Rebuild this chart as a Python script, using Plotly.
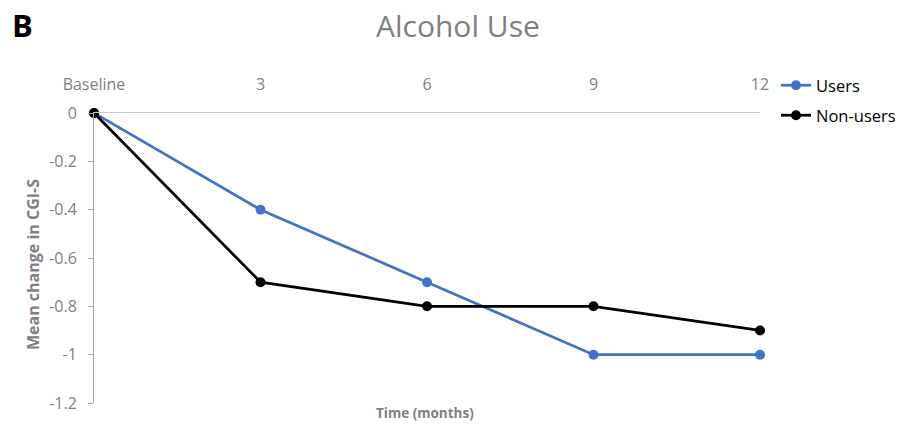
import plotly.graph_objects as go

categories = ["Baseline", "3", "6", "9", "12"]
users = [0, -0.4, -0.7, -1.0, -1.0]
non_users = [0, -0.7, -0.8, -0.8, -0.9]
y_ticks = [0, -0.2, -0.4, -0.6, -0.8, -1.0, -1.2]
y_tick_text = ["0", "-0.2", "-0.4", "-0.6", "-0.8", "-1", "-1.2"]

gray = "#808080"
font_family = "Open Sans, Noto Sans, sans-serif"
xpos = list(range(len(categories)))

ML, MR, MT, MB = 94, 138, 113, 22
W, H = 898, 425
plot_h = H - MT - MB
plot_w = W - ML - MR


def px_to_paper(px, py):
    return (px - ML) / plot_w, (H - MB - py) / plot_h


fig = go.Figure()
fig.add_trace(go.Scatter(
    x=xpos, y=users, name="Users", mode="lines+markers",
    line=dict(color="#4472C4", width=2.75), marker=dict(size=10, color="#4472C4"),
    cliponaxis=False, legend="legend"))
fig.add_trace(go.Scatter(
    x=xpos, y=non_users, name="Non-users", mode="lines+markers",
    line=dict(color="black", width=2.75), marker=dict(size=10, color="black"),
    cliponaxis=False, legend="legend2"))

lx1, ly1 = px_to_paper(776, 68)
lx2, ly2 = px_to_paper(776, 98)
tx, ty = px_to_paper(458, 25)
bx, by = px_to_paper(22, 25)
xtx, xty = px_to_paper(425, 413)
ytx, yty = px_to_paper(33, 265)

fig.update_layout(
    width=W, height=H,
    margin=dict(l=ML, r=MR, t=MT, b=MB, autoexpand=False),
    plot_bgcolor="white", paper_bgcolor="white",
    font=dict(family=font_family, color=gray, size=14),
    showlegend=True,
    legend=dict(x=lx1, y=ly1, xanchor="left", yanchor="top",
                font=dict(size=16.5, color="black"), bgcolor="rgba(0,0,0,0)"),
    legend2=dict(x=lx2, y=ly2, xanchor="left", yanchor="top",
                 font=dict(size=16.5, color="black"), bgcolor="rgba(0,0,0,0)"),
    xaxis=dict(
        range=[0, 4], side="top", tickmode="array", tickvals=xpos, ticktext=categories,
        showline=True, linecolor="#c8c8c8", linewidth=1, showgrid=False, zeroline=False,
        ticks="", ticklabelstandoff=16, tickfont=dict(size=16, color=gray), automargin=False),
    yaxis=dict(
        range=[-1.2, 0], tickmode="array", tickvals=y_ticks, ticktext=y_tick_text,
        showline=True, linecolor="#a6a6a6", linewidth=1, showgrid=False, zeroline=False,
        ticks="outside", ticklen=5, tickcolor="#a6a6a6", ticklabelstandoff=8,
        tickfont=dict(size=16, color=gray), automargin=False),
    annotations=[
        dict(text="Alcohol Use", x=tx, y=ty, xref="paper", yref="paper", showarrow=False,
             xanchor="center", yanchor="middle", font=dict(size=30, color="#7f7f7f")),
        dict(text="<b>B</b>", x=bx, y=by, xref="paper", yref="paper", showarrow=False,
             xanchor="center", yanchor="middle", font=dict(size=31, color="black")),
        dict(text="<b>Time (months)</b>", x=xtx, y=xty, xref="paper", yref="paper",
             xanchor="center", yanchor="middle", showarrow=False, font=dict(size=13.5, color=gray)),
        dict(text="<b>Mean change in CGI-S</b>", x=ytx, y=yty, xref="paper", yref="paper",
             xanchor="center", yanchor="middle", textangle=-90, showarrow=False,
             font=dict(size=16, color=gray)),
    ],
)

fig.write_html("out.html", config={"displayModeBar": False},
               post_script="document.body.style.margin='0';document.body.style.overflow='hidden';")
